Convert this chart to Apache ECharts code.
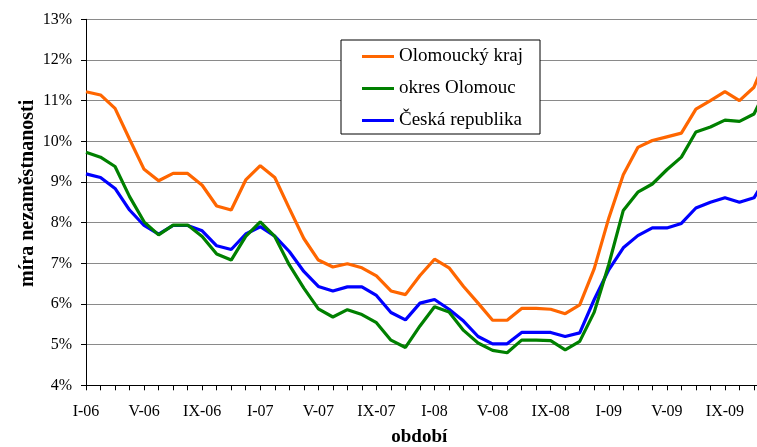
<!DOCTYPE html>
<html>
<head>
<meta charset="utf-8">
<script src="https://cdn.jsdelivr.net/npm/echarts@6/dist/echarts.min.js"></script>
<style>
  html, body { margin: 0; padding: 0; background: #fff; }
  #chart { width: 757px; height: 447px; }
</style>
</head>
<body>
<div id="chart"></div>
<script>
// Monthly periods I-06 .. XII-09
const romanMonths = ['I', 'II', 'III', 'IV', 'V', 'VI', 'VII', 'VIII', 'IX', 'X', 'XI', 'XII'];
const years = ['06', '07', '08', '09'];
const periods = [];
years.forEach(y => romanMonths.forEach(m => periods.push(m + '-' + y)));

// Unemployment rate, %
const olomouckyKraj = [
  11.22, 11.14, 10.81, 10.05, 9.31, 9.03, 9.21, 9.21, 8.92, 8.41, 8.31, 9.05,
  9.40, 9.11, 8.35, 7.61, 7.08, 6.91, 6.99, 6.89, 6.69, 6.32, 6.23, 6.70,
  7.10, 6.89, 6.43, 6.02, 5.60, 5.60, 5.89, 5.89, 5.87, 5.76, 5.98, 6.87,
  8.11, 9.18, 9.85, 10.02, 10.11, 10.20, 10.79, 11.00, 11.22, 11.00, 11.33, 12.20
];
const okresOlomouc = [
  9.73, 9.61, 9.38, 8.64, 8.02, 7.70, 7.94, 7.94, 7.66, 7.23, 7.08, 7.66,
  8.02, 7.66, 6.96, 6.39, 5.88, 5.68, 5.86, 5.74, 5.54, 5.11, 4.93, 5.46,
  5.93, 5.80, 5.35, 5.04, 4.86, 4.80, 5.11, 5.11, 5.10, 4.87, 5.08, 5.80,
  6.97, 8.30, 8.75, 8.95, 9.30, 9.61, 10.23, 10.35, 10.52, 10.49, 10.67, 11.40
];
const ceskaRepublika = [
  9.20, 9.11, 8.84, 8.31, 7.93, 7.72, 7.93, 7.93, 7.80, 7.43, 7.34, 7.72,
  7.90, 7.67, 7.29, 6.80, 6.43, 6.32, 6.42, 6.42, 6.21, 5.79, 5.61, 6.02,
  6.11, 5.87, 5.58, 5.20, 5.02, 5.02, 5.30, 5.30, 5.30, 5.20, 5.29, 6.11,
  6.84, 7.38, 7.68, 7.87, 7.87, 7.98, 8.36, 8.50, 8.61, 8.50, 8.61, 9.20
];

const seriesNames = ['Olomoucký kraj', 'okres Olomouc', 'Česká republika'];
const seriesColors = ['#FF6600', '#008000', '#0000FF'];
const seriesData = [olomouckyKraj, okresOlomouc, ceskaRepublika];

const FONT = '"Liberation Serif", "Times New Roman", serif';

const chart = echarts.init(document.getElementById('chart'), null, { renderer: 'canvas' });

chart.setOption({
  animation: false,
  backgroundColor: '#ffffff',
  textStyle: { fontFamily: FONT, color: '#000' },
  // the plot runs a little past the right edge of the canvas (XII-09 is cut off)
  grid: { left: 86, top: 19.3, width: 682.5, height: 366, containLabel: false, outerBoundsMode: 'none' },
  legend: {
    orient: 'vertical',
    left: 341,
    top: 40,
    icon: 'rect',
    itemWidth: 32,
    itemHeight: 3,
    itemGap: 13,
    padding: [7, 17, 4, 21],
    backgroundColor: '#ffffff',
    borderColor: '#000000',
    borderWidth: 1,
    borderRadius: 0,
    textStyle: { fontFamily: FONT, fontSize: 19, color: '#000' },
    data: seriesNames
  },
  xAxis: {
    type: 'category',
    data: periods,
    boundaryGap: false,
    name: 'období',
    nameLocation: 'middle',
    nameGap: 42,
    nameTextStyle: { fontFamily: FONT, fontSize: 19, fontWeight: 'bold', color: '#000', padding: [0, 16, 0, 0] },
    axisLine: { lineStyle: { color: '#000', width: 1 } },
    axisTick: { show: true, interval: 0, length: 5, lineStyle: { color: '#000' } },
    axisLabel: { interval: 3, margin: 18, fontFamily: FONT, fontSize: 16, color: '#000' },
    splitLine: { show: false }
  },
  yAxis: {
    type: 'value',
    min: 4,
    max: 13,
    interval: 1,
    name: 'míra nezaměstnanosti',
    nameLocation: 'middle',
    nameGap: 48,
    nameMoveOverlap: false,
    nameTextStyle: { fontFamily: FONT, fontSize: 20, fontWeight: 'bold', color: '#000', padding: [0, 0, 0, 18] },
    axisLine: { show: true, lineStyle: { color: '#000', width: 1 } },
    axisTick: { show: true, length: 5, inside: false, lineStyle: { color: '#000' } },
    axisLabel: { formatter: '{value}%', margin: 14, fontFamily: FONT, fontSize: 16, color: '#000' },
    splitLine: { show: true, lineStyle: { color: '#8a8a8a', width: 1 } }
  },
  series: seriesNames.map((name, i) => ({
    name: name,
    type: 'line',
    data: seriesData[i],
    symbol: 'none',
    smooth: false,
    lineStyle: { color: seriesColors[i], width: 3.2 },
    itemStyle: { color: seriesColors[i] },
    z: 3 - i
  }))
});
</script>
</body>
</html>
